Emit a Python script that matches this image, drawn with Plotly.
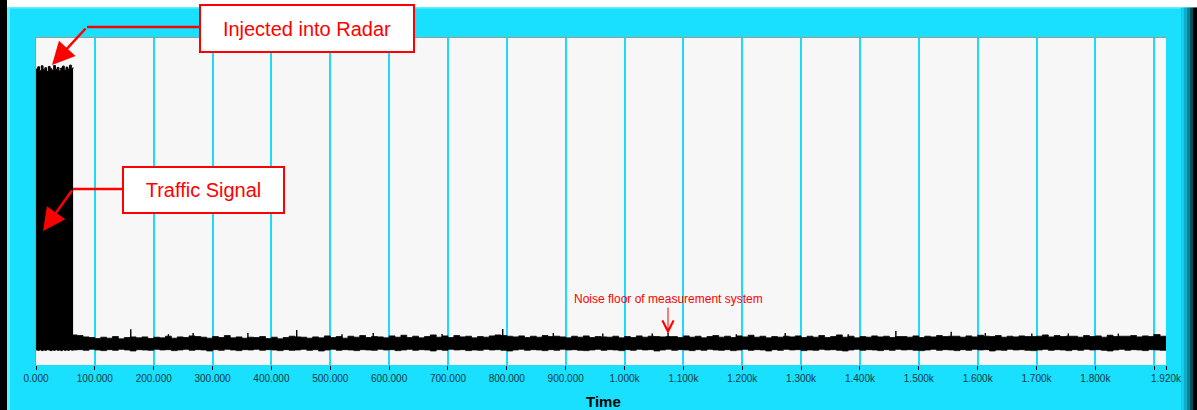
import plotly.graph_objects as go

# ---------------- data ----------------
x_tick_vals = [0, 100, 200, 300, 400, 500, 600, 700, 800, 900, 1000,
               1100, 1200, 1300, 1400, 1500, 1600, 1700, 1800, 1900]
x_tick_text = ["0.000", "100.000", "200.000", "300.000", "400.000", "500.000",
               "600.000", "700.000", "800.000", "900.000", "1.000k", "1.100k",
               "1.200k", "1.300k", "1.400k", "1.500k", "1.600k", "1.700k",
               "1.800k", ""]
end_tick_vals = [1920]
end_tick_text = ["1.920k"]

# injected traffic signal block (envelope of dense signal)
block_time = list(range(0, 64, 3))
block_upper = [0.905, 0.912, 0.900, 0.915, 0.903, 0.909, 0.898, 0.913, 0.906, 0.901, 0.916,
               0.904, 0.910, 0.899, 0.908, 0.914, 0.902, 0.911, 0.905, 0.917, 0.907, 0.910]
block_lower = [0.046, 0.045, 0.047, 0.044, 0.046, 0.045, 0.047, 0.046, 0.044, 0.046, 0.045,
               0.047, 0.045, 0.046, 0.044, 0.047, 0.045, 0.046, 0.045, 0.047, 0.046, 0.045]

# noise floor (envelope of dense signal)
noise_time = list(range(60, 1921, 10))
noise_upper = [
    0.092, 0.090, 0.086, 0.084, 0.081, 0.085, 0.082, 0.087, 0.080, 0.084,
    0.086, 0.083, 0.086, 0.081, 0.085, 0.083, 0.088, 0.082, 0.086, 0.084,
    0.089, 0.087, 0.085, 0.082, 0.087, 0.084, 0.090, 0.083, 0.086, 0.082,
    0.085, 0.084, 0.087, 0.081, 0.085, 0.080, 0.084, 0.088, 0.086, 0.085,
    0.082, 0.086, 0.083, 0.089, 0.084, 0.087, 0.082, 0.088, 0.085, 0.090,
    0.084, 0.087, 0.086, 0.083, 0.089, 0.085, 0.091, 0.084, 0.088, 0.083,
    0.087, 0.092, 0.085, 0.089, 0.084, 0.090, 0.086, 0.088, 0.083, 0.087,
    0.085, 0.089, 0.092, 0.090, 0.088, 0.086, 0.089, 0.084, 0.088, 0.085,
    0.090, 0.087, 0.088, 0.086, 0.083, 0.088, 0.085, 0.089, 0.084, 0.087,
    0.086, 0.085, 0.088, 0.083, 0.087, 0.084, 0.089, 0.085, 0.088, 0.087,
    0.086, 0.087, 0.087, 0.084, 0.089, 0.085, 0.088, 0.083, 0.087, 0.090,
    0.085, 0.088, 0.084, 0.089, 0.086, 0.091, 0.085, 0.088, 0.083, 0.087,
    0.085, 0.088, 0.086, 0.089, 0.084, 0.088, 0.085, 0.090, 0.084, 0.087,
    0.092, 0.085, 0.088, 0.083, 0.087, 0.085, 0.089, 0.086, 0.088, 0.084,
    0.087, 0.087, 0.085, 0.089, 0.084, 0.088, 0.086, 0.090, 0.087, 0.088,
    0.088, 0.085, 0.089, 0.086, 0.091, 0.088, 0.087, 0.090, 0.085, 0.088,
    0.086, 0.089, 0.087, 0.087, 0.088, 0.092, 0.086, 0.090, 0.087, 0.088,
    0.088, 0.085, 0.090, 0.087, 0.089, 0.085, 0.091, 0.087, 0.088, 0.088,
    0.090, 0.086, 0.089, 0.087, 0.093, 0.088, 0.086]
noise_lower = [
    0.046, 0.047, 0.045, 0.048, 0.046, 0.044, 0.047, 0.045, 0.048, 0.046,
    0.043, 0.047, 0.046, 0.045, 0.048, 0.046, 0.047, 0.044, 0.046, 0.048,
    0.045, 0.047, 0.046, 0.043, 0.047, 0.045, 0.048, 0.046, 0.044, 0.047,
    0.046, 0.048, 0.045, 0.047, 0.046, 0.044, 0.047, 0.045, 0.046, 0.048,
    0.045, 0.047, 0.043, 0.046, 0.048, 0.045, 0.047, 0.046, 0.044, 0.047,
    0.046, 0.045, 0.048, 0.046, 0.047, 0.044, 0.046, 0.048, 0.045, 0.047,
    0.046, 0.043, 0.047, 0.045, 0.048, 0.046, 0.047, 0.044, 0.046, 0.045,
    0.048, 0.046, 0.047, 0.045, 0.043, 0.046, 0.048, 0.045, 0.047, 0.046,
    0.044, 0.047, 0.045, 0.048, 0.046, 0.047, 0.045, 0.044, 0.046, 0.048,
    0.045, 0.047, 0.046, 0.044, 0.047, 0.045, 0.048, 0.046, 0.047, 0.043,
    0.046, 0.048, 0.045, 0.047, 0.046, 0.044, 0.047, 0.045, 0.048, 0.046,
    0.045, 0.047, 0.044, 0.046, 0.048, 0.045, 0.047, 0.046, 0.043, 0.047,
    0.045, 0.048, 0.046, 0.047, 0.044, 0.046, 0.045, 0.048, 0.046, 0.047,
    0.045, 0.043, 0.046, 0.048, 0.045, 0.047, 0.046, 0.044, 0.047, 0.045,
    0.048, 0.046, 0.047, 0.045, 0.044, 0.046, 0.048, 0.045, 0.047, 0.046,
    0.044, 0.047, 0.045, 0.048, 0.046, 0.047, 0.043, 0.046, 0.045, 0.048,
    0.046, 0.047, 0.045, 0.044, 0.046, 0.048, 0.045, 0.047, 0.046, 0.044,
    0.047, 0.045, 0.048, 0.046, 0.047, 0.045, 0.043, 0.046, 0.048, 0.045,
    0.047, 0.046, 0.044, 0.047, 0.046, 0.045, 0.047]

# isolated noise spikes (time, peak value)
spike_time = [161, 225, 267, 360, 443, 520, 573, 690, 793, 879, 963, 1047,
              1074, 1190, 1273, 1380, 1461, 1555, 1613, 1692, 1754, 1839, 1900]
spike_peak = [0.109, 0.094, 0.098, 0.098, 0.107, 0.094, 0.098, 0.095, 0.110,
              0.098, 0.096, 0.096, 0.098, 0.094, 0.098, 0.094, 0.104, 0.102,
              0.098, 0.096, 0.096, 0.096, 0.095]
spike_base = 0.080

# ---------------- layout geometry ----------------
W, H = 1197, 410
ML, MR, MT, MB = 36, 31, 38, 45
PW, PH = W - ML - MR, H - MT - MB


def px(x):
    return (x - ML) / PW


def py(y):
    return (H - MB - y) / PH


FONT = "Liberation Sans, Arial, sans-serif"
CYAN = "#19E0FF"
GRID = "#1ED9FA"
RED = "#FF0000"

fig = go.Figure()

# noise envelope
fig.add_trace(go.Scatter(x=noise_time, y=noise_lower, mode="lines",
                         line=dict(color="black", width=0.8, shape="hv"),
                         hoverinfo="skip", showlegend=False))
fig.add_trace(go.Scatter(x=noise_time, y=noise_upper, mode="lines",
                         line=dict(color="black", width=0.8, shape="hv"),
                         fill="tonexty", fillcolor="black", hoverinfo="skip",
                         showlegend=False))
# noise spikes as thin needles
sx, sy = [], []
for t, p in zip(spike_time, spike_peak):
    sx += [t, t, None]
    sy += [spike_base, p, None]
fig.add_trace(go.Scatter(x=sx, y=sy, mode="lines",
                         line=dict(color="black", width=1.4),
                         hoverinfo="skip", showlegend=False))
# traffic-signal block
fig.add_trace(go.Scatter(x=block_time, y=block_lower, mode="lines",
                         line=dict(color="black", width=1, shape="hv"),
                         hoverinfo="skip", showlegend=False))
fig.add_trace(go.Scatter(x=block_time, y=block_upper, mode="lines",
                         line=dict(color="black", width=1, shape="hv"),
                         fill="tonexty", fillcolor="black", hoverinfo="skip",
                         showlegend=False))
# dummy for the end tick axis
fig.add_trace(go.Scatter(x=[0, 1920], y=[None, None], xaxis="x2", mode="lines",
                         hoverinfo="skip", showlegend=False))

shapes = []


def rect(x0, y0, x1, y1, color, layer="below"):
    shapes.append(dict(type="rect", xref="paper", yref="paper",
                       x0=px(x0), x1=px(x1), y0=py(y0), y1=py(y1),
                       fillcolor=color, line=dict(width=0), layer=layer))


def seg(x0, y0, x1, y1, color, width):
    shapes.append(dict(type="line", xref="paper", yref="paper",
                       x0=px(x0), x1=px(x1), y0=py(y0), y1=py(y1),
                       line=dict(color=color, width=width)))


# frame decoration
rect(0, 0, W, 7.5, "white")
rect(0, 0, 7, H, "black")
rect(7, 7.5, 10, H, "#5CF2FF")
rect(10, 7.5, 1180, 9, "#3EEAFF")
rect(1181, 7.5, 1184, H, "#14CDEB")
rect(1184, 7.5, 1187, H, "#0EAECB")
rect(1187, 7.5, 1190, H, "#0A8298")
rect(1190, 7.5, 1193, H, "#064E5C")
rect(1193, 7.5, W, H, "black")
# sunken plot frame
seg(35, 37.5, 1167, 37.5, "#9A9A9A", 1.2)
seg(35.5, 37.5, 35.5, 365, "#9A9A9A", 1.2)

annotations = []
# "Injected into Radar"
annotations.append(dict(xref="paper", yref="paper", x=px(306.5), y=py(28),
                        text="Injected into Radar", showarrow=False,
                        font=dict(family=FONT, size=20, color=RED),
                        bgcolor="white", bordercolor=RED, borderwidth=2,
                        borderpad=0, width=212, height=45,
                        xanchor="center", yanchor="middle"))
seg(87, 27, 199, 27, RED, 2.5)
annotations.append(dict(xref="paper", yref="paper", x=px(52), y=py(65),
                        text="", showarrow=True, ax=35, ay=-38,
                        arrowhead=2, arrowsize=1.8, arrowwidth=2.5,
                        arrowcolor=RED))
# "Traffic Signal"
annotations.append(dict(xref="paper", yref="paper", x=px(203), y=py(189.5),
                        text="Traffic Signal", showarrow=False,
                        font=dict(family=FONT, size=20, color=RED),
                        bgcolor="white", bordercolor=RED, borderwidth=2,
                        borderpad=0, width=159, height=44,
                        xanchor="center", yanchor="middle"))
seg(73, 189, 122, 189, RED, 2.5)
annotations.append(dict(xref="paper", yref="paper", x=px(43), y=py(231),
                        text="", showarrow=True, ax=30, ay=-42,
                        arrowhead=2, arrowsize=1.8, arrowwidth=2.5,
                        arrowcolor=RED))
# noise floor note
annotations.append(dict(xref="paper", yref="paper", x=px(668), y=py(334),
                        text="Noise floor of measurement system",
                        showarrow=True, ax=0, ay=-35,
                        font=dict(family=FONT, size=12, color=RED),
                        arrowhead=5, arrowsize=2.2, arrowwidth=1,
                        arrowcolor=RED))
# axis title
annotations.append(dict(xref="paper", yref="paper", x=px(603), y=py(401),
                        text="<b>Time</b>", showarrow=False,
                        font=dict(family=FONT, size=15, color="black"),
                        xanchor="center", yanchor="middle"))

axis_common = dict(range=[0, 1920], ticks="outside", ticklen=4, tickwidth=1,
                   tickcolor="black", tickfont=dict(family=FONT, size=10,
                                                    color="#0B3A44"),
                   zeroline=False, showline=False, fixedrange=True)

fig.update_layout(
    width=W, height=H,
    margin=dict(l=ML, r=MR, t=MT, b=MB, pad=0),
    paper_bgcolor=CYAN,
    plot_bgcolor="#F7F7F7",
    xaxis=dict(tickmode="array", tickvals=x_tick_vals, ticktext=x_tick_text,
               showgrid=True, gridcolor=GRID, gridwidth=1.5, **axis_common),
    xaxis2=dict(tickmode="array", tickvals=end_tick_vals,
                ticktext=end_tick_text, overlaying="x", anchor="y",
                side="bottom", showgrid=False, **axis_common),
    yaxis=dict(range=[0, 1], showgrid=False, zeroline=False,
               showticklabels=False, ticks="", fixedrange=True),
    shapes=shapes,
    annotations=annotations,
    showlegend=False,
)

fig.write_html("out.html",
               config={"displayModeBar": False},
               post_script="document.body.style.margin='0';"
                           "document.body.style.padding='0';")
